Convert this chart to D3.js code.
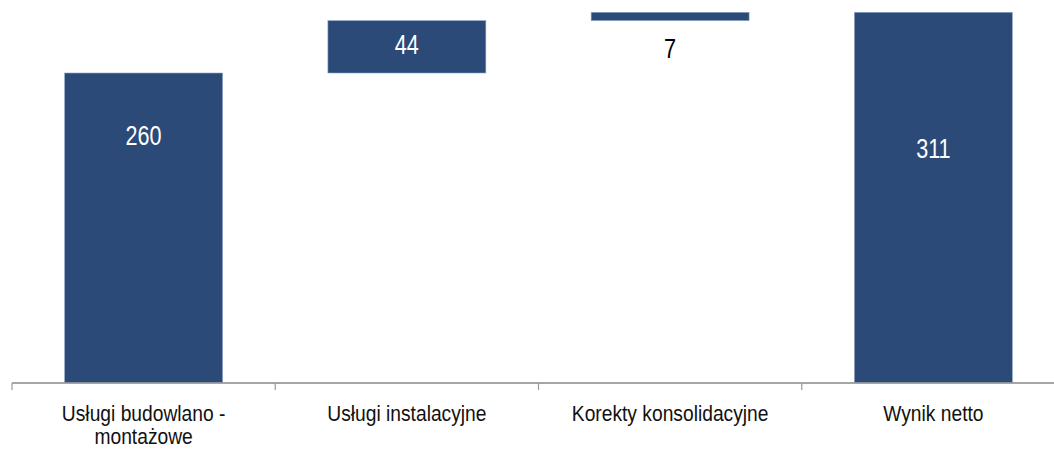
<!DOCTYPE html>
<html><head><meta charset="utf-8">
<script src="https://cdn.jsdelivr.net/npm/d3@7"></script>
<style>body{margin:0;background:#fff}svg{display:block}</style>
</head><body>
<script>
const categories = ["Usługi budowlano - montażowe", "Usługi instalacyjne", "Korekty konsolidacyjne", "Wynik netto"];
const values = [260, 44, 7, 311];
const isTotal = [false, false, false, true];
const labelLines = [["Usługi budowlano -", "montażowe"], ["Usługi instalacyjne"], ["Korekty konsolidacyjne"], ["Wynik netto"]];

const W = 1054, H = 450;
const svg = d3.select("body").append("svg").attr("width", W).attr("height", H);
const x = d3.scaleBand().domain(categories).range([12, 1065]).paddingInner(0.4).paddingOuter(0.2);
const y = d3.scaleLinear().domain([0, 311]).range([382.5, 12.3]);

let run = 0;
const bars = categories.map((c, i) => {
  let start, end;
  if (isTotal[i]) { start = 0; end = values[i]; }
  else { start = run; end = run + values[i]; run = end; }
  return {c, v: values[i], start, end, i};
});

svg.selectAll("rect.bar").data(bars).enter().append("rect")
  .attr("x", d => x(d.c))
  .attr("width", x.bandwidth())
  .attr("y", d => y(d.end))
  .attr("height", d => y(d.start) - y(d.end))
  .attr("fill", "#2B4A78")
  .attr("stroke", "#8FA6C6").attr("stroke-width", 0.6);

const xs = d3.scaleBand().domain(categories).range([12, 1065]);
const g = svg.append("g").attr("transform", "translate(0,383)");
g.append("line").attr("x1", 12).attr("x2", W).attr("y1", 0).attr("y2", 0).attr("stroke", "#888").attr("stroke-width", 1.5);
g.selectAll("line.tick").data(categories).enter().append("line")
  .attr("x1", d => xs(d)).attr("x2", d => xs(d)).attr("y1", 0).attr("y2", 7)
  .attr("stroke", "#999").attr("stroke-width", 1.2);

const font = "'Liberation Sans', Arial, sans-serif";
bars.forEach(d => {
  labelLines[d.i].forEach((ln, k) => {
    svg.append("text")
      .attr("transform", `translate(${x(d.c) + x.bandwidth()/2},${421 + k*23}) scale(0.855,1)`)
      .attr("text-anchor", "middle").attr("font-family", font).attr("font-size", 22.5).attr("fill", "#111")
      .text(ln);
  });
});

const labelY = [208, null, null, 197];
bars.forEach(d => {
  const h = y(d.start) - y(d.end);
  let by;
  if (labelY[d.i] != null) by = y(labelY[d.i]) + 10;
  else if (h > 30) by = (y(d.start) + y(d.end))/2 + 7;
  else by = y(d.start) + 37;
  svg.append("text")
    .attr("transform", `translate(${x(d.c) + x.bandwidth()/2},${by}) scale(0.8,1)`)
    .attr("text-anchor", "middle").attr("font-family", font).attr("font-size", 27)
    .attr("fill", h > 30 ? "#fff" : "#000")
    .text(d.v);
});
</script>
</body></html>
